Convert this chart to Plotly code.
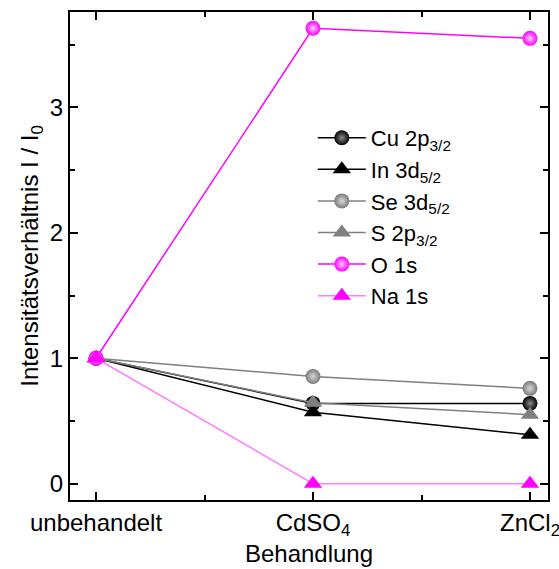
import plotly.graph_objects as go

# Treatments on the x axis and their label text
treatments = [0, 1, 2]
treatment_labels = ["unbehandelt", "CdSO<sub>4</sub>", "ZnCl<sub>2</sub>"]

# Intensity ratios I / I0 per core level
cu_2p = [1.0, 0.64, 0.64]
in_3d = [1.0, 0.57, 0.39]
se_3d = [1.0, 0.855, 0.76]
s_2p = [1.0, 0.645, 0.55]
o_1s = [1.0, 3.63, 3.55]
na_1s = [1.0, 0.0, 0.0]

FONT = "Liberation Sans, Arial, sans-serif"

# name, values, symbol, marker colour, highlight colour, line colour
series = [
    ("Cu 2p<sub>3/2</sub>", cu_2p, "circle", "#000000", "#8a8a8a", "#000000"),
    ("In 3d<sub>5/2</sub>", in_3d, "triangle-up", "#000000", None, "#000000"),
    ("Se 3d<sub>5/2</sub>", se_3d, "circle", "#7a7a7a", "#d8d8d8", "#808080"),
    ("S 2p<sub>3/2</sub>", s_2p, "triangle-up", "#808080", None, "#808080"),
    ("O 1s", o_1s, "circle", "#ff00ff", "#ffc8ff", "#ff00ff"),
    ("Na 1s", na_1s, "triangle-up", "#ff00ff", None, "#ff80ff"),
]

fig = go.Figure()
for name, vals, sym, mcol, hcol, lcol in series:
    if sym == "circle":
        marker = dict(symbol=sym, size=15, color=mcol, line=dict(width=0),
                      gradient=dict(type="radial", color=hcol))
    else:
        marker = dict(symbol=sym, size=16, color=mcol, line=dict(width=0))
    fig.add_trace(go.Scatter(
        x=treatments, y=vals, name=name, mode="lines+markers",
        line=dict(color=lcol, width=1.5), marker=marker,
    ))

axis_common = dict(
    showline=True, linecolor="black", linewidth=2, mirror="ticks",
    ticks="inside", ticklen=8, tickwidth=2, tickcolor="black",
    showgrid=False, zeroline=False, automargin=False,
    ticklabeloverflow="allow",
    tickfont=dict(family=FONT, size=24, color="black"),
)

fig.update_xaxes(
    **axis_common, range=[-0.12, 2.083],
    tickvals=treatments, ticktext=treatment_labels,
    minor=dict(tickvals=[0.5, 1.5], ticks="inside", ticklen=5, tickwidth=2, tickcolor="black"),
    title=dict(text="Behandlung", font=dict(family=FONT, size=24, color="black"), standoff=0),
)
fig.update_yaxes(
    **axis_common, range=[-0.13, 3.76],
    tickvals=[0, 1, 2, 3],
    minor=dict(tickvals=[0.5, 1.5, 2.5, 3.5], ticks="inside", ticklen=5, tickwidth=2, tickcolor="black"),
    title=dict(text="Intensitätsverhältnis I / I<sub>0</sub>", font=dict(family=FONT, size=24, color="black"), standoff=4),
)

fig.update_layout(
    width=559, height=569,
    margin=dict(l=70, r=11, t=12, b=69),
    plot_bgcolor="white", paper_bgcolor="white",
    legend=dict(
        x=0.508, y=0.785, xanchor="left", yanchor="top",
        bgcolor="rgba(0,0,0,0)", itemwidth=48, tracegroupgap=0,
        font=dict(family=FONT, size=22, color="black"),
    ),
)

fig.write_html("out.html")
